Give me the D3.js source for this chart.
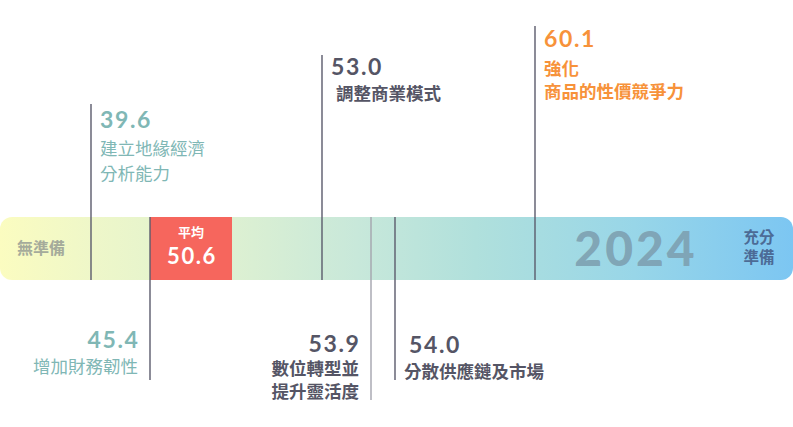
<!DOCTYPE html>
<html>
<head>
<meta charset="utf-8">
<script src="https://cdn.jsdelivr.net/npm/d3@7"></script>
<style>
  body { margin: 0; background: #fff; }
  svg { display: block; }
</style>
</head>
<body>
<div id="chart"></div>
<script>
// --- data ---
const values = [39.6, 45.4, 53.0, 53.9, 54.0, 60.1];
const labels = [
  ["建立地緣經濟", "分析能力"],
  ["增加財務韌性"],
  ["調整商業模式"],
  ["數位轉型並", "提升靈活度"],
  ["分散供應鏈及市場"],
  ["強化", "商品的性價競爭力"]
];
const groups = ["teal", "teal", "gray", "gray", "gray", "orange"];
const average = 50.6;
const averageLabel = "平均";
const yearLabel = "2024";
const lowLabel = "無準備";
const highLabel = ["充分", "準備"];

// --- layout (not data) ---
const width = 793, height = 427;
const barTop = 217, barBottom = 280;
// hand placed, uneven spacing like the original graphic
const x = d3.scaleLinear()
  .domain([35, 39.6, 45.4, 50.6, 53.0, 53.9, 54.0, 60.1, 65])
  .range([0, 91, 150, 150, 322, 371, 395, 535, 793]);
const side = ["up", "down", "up", "down", "down", "up"];
const lineEnd = [104, 380, 55, 400, 380, 26];
const valueBase = [128, 348, 75, 352, 353, 47];
const labelBase = [[155, 180], [373], [100], [375, 398], [378], [75, 98]];
const colors = { teal: "#80b7b5", gray: "#555565", orange: "#f7923a" };
const numFont = "Lato, 'Open Sans', sans-serif";
const cjkFont = "'Noto Sans CJK TC', sans-serif";

const svg = d3.create("svg")
  .attr("width", width)
  .attr("height", height);
document.getElementById("chart").appendChild(svg.node());

const defs = svg.append("defs");
const grad = defs.append("linearGradient")
  .attr("id", "barGrad")
  .attr("x1", "0%").attr("x2", "100%");
[["0%", "#fbfcc0"], ["12%", "#eef7c9"], ["30%", "#dcf0d2"], ["45%", "#c8e8da"],
 ["60%", "#b0e0dc"], ["80%", "#98d6e8"], ["100%", "#7cc6f2"]]
  .forEach(([o, c]) => grad.append("stop").attr("offset", o).attr("stop-color", c));

// bar
svg.append("rect")
  .attr("x", x.range()[0])
  .attr("y", barTop)
  .attr("width", x.range()[x.range().length - 1] - x.range()[0])
  .attr("height", barBottom - barTop)
  .attr("rx", 12)
  .attr("fill", "url(#barGrad)");

// average box
const avgW = 82;
svg.append("rect")
  .attr("x", x(average))
  .attr("y", barTop)
  .attr("width", avgW)
  .attr("height", barBottom - barTop)
  .attr("fill", "#f6665d");

svg.append("text")
  .attr("x", x(average) + avgW / 2)
  .attr("y", 237)
  .attr("text-anchor", "middle")
  .attr("fill", "#fff")
  .attr("font-family", cjkFont)
  .attr("font-weight", 700)
  .attr("font-size", 13)
  .text(averageLabel);

svg.append("text")
  .attr("x", x(average) + avgW / 2 + 1)
  .attr("y", 264)
  .attr("text-anchor", "middle")
  .attr("fill", "#fff")
  .attr("font-family", numFont)
  .attr("font-weight", 700)
  .attr("font-size", 22)
  .attr("letter-spacing", 1.6)
  .text(average.toFixed(1));

// bar end labels
svg.append("text")
  .attr("x", 17)
  .attr("y", 254)
  .attr("fill", "#a5ab9b")
  .attr("font-family", cjkFont)
  .attr("font-weight", 700)
  .attr("font-size", 16)
  .text(lowLabel);

svg.append("text")
  .attr("x", 636)
  .attr("y", 266)
  .attr("text-anchor", "middle")
  .attr("fill", "#7d9fb0")
  .attr("fill-opacity", 0.9)
  .attr("font-family", numFont)
  .attr("font-weight", 900)
  .attr("font-size", 48)
  .attr("letter-spacing", 3)
  .text(yearLabel);

svg.append("g")
  .selectAll("text")
  .data(highLabel)
  .join("text")
  .attr("x", 759)
  .attr("y", (d, i) => 243 + i * 20)
  .attr("text-anchor", "middle")
  .attr("fill", "#4c6b96")
  .attr("font-family", cjkFont)
  .attr("font-weight", 700)
  .attr("font-size", 15.5)
  .text(d => d);

// markers
const items = values.map((v, i) => ({
  v, i, label: labels[i], group: groups[i], side: side[i]
}));

const marks = svg.append("g").selectAll("g")
  .data(items)
  .join("g");

marks.append("line")
  .attr("x1", d => x(d.v))
  .attr("x2", d => x(d.v))
  .attr("y1", d => d.side === "up" ? barBottom : barTop)
  .attr("y2", d => lineEnd[d.i])
  .attr("stroke", d => d.v === 53.9 ? "#a4a4ae" : "#5b5b6c")
  .attr("stroke-width", 1.4);

const ax = d => d.side === "up" ? x(d.v) + 9 : (d.v < 54 ? x(d.v) - 12 : x(d.v) + 14);
const anchor = d => d.side === "up" || d.v >= 54 ? "start" : "end";

marks.append("text")
  .attr("x", d => anchor(d) === "end" ? ax(d) + 1.5 : ax(d))
  .attr("y", d => valueBase[d.i])
  .attr("text-anchor", anchor)
  .attr("fill", d => colors[d.group])
  .attr("font-family", numFont)
  .attr("font-weight", 700)
  .attr("font-size", 23)
  .attr("letter-spacing", 1.6)
  .text(d => d.v.toFixed(1));

marks.each(function (d) {
  d3.select(this).selectAll("text.lab")
    .data(d.label)
    .join("text")
    .attr("class", "lab")
    .attr("x", d.v >= 54 && d.side === "down" ? ax(d) - 5 : (d.v === 53.0 ? ax(d) + 5 : ax(d)))
    .attr("y", (t, j) => labelBase[d.i][j])
    .attr("text-anchor", anchor(d))
    .attr("fill", colors[d.group])
    .attr("font-family", cjkFont)
    .attr("font-weight", d.group === "teal" ? 400 : 700)
    .attr("font-size", 17.5)
    .text(t => t);
});
</script>
</body>
</html>
